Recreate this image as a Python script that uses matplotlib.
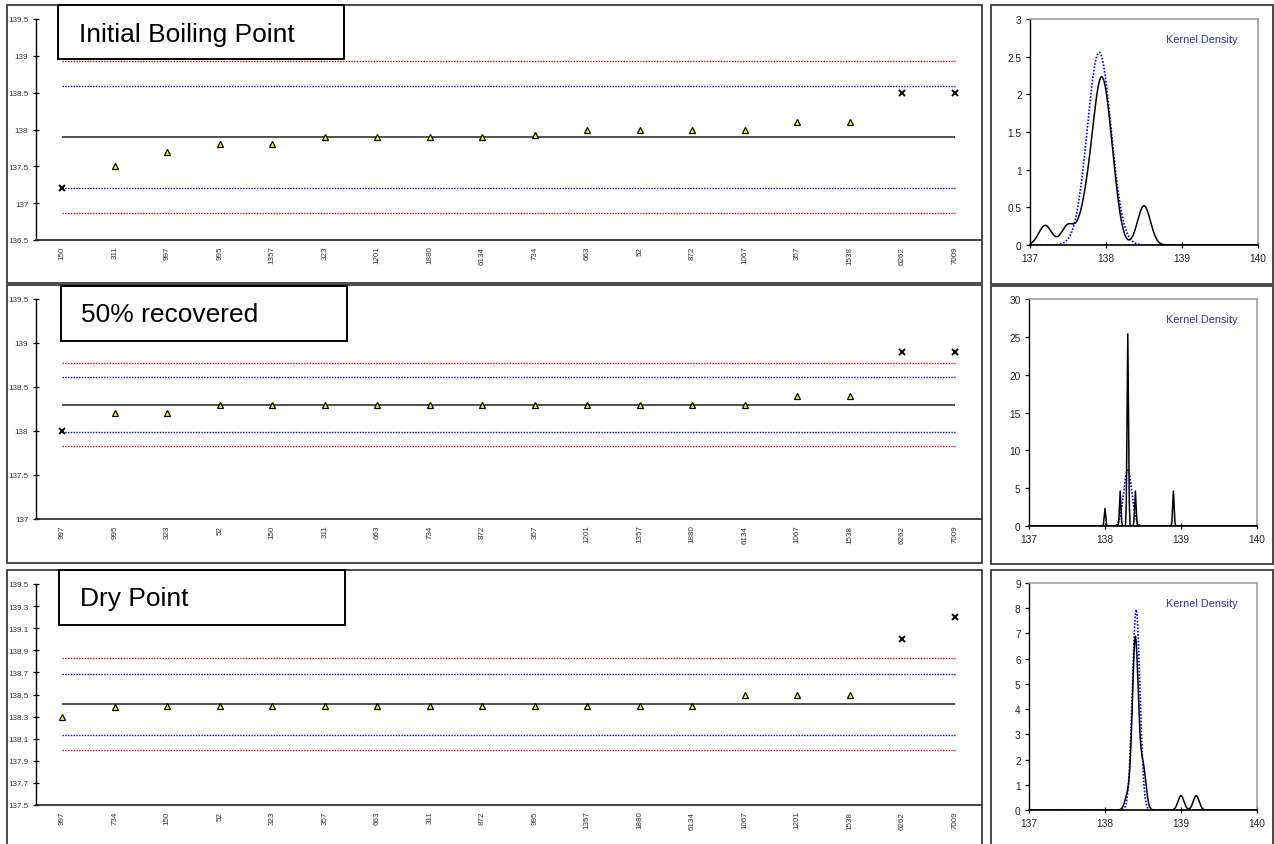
import numpy as np
import matplotlib
matplotlib.use('Agg')
import matplotlib.pyplot as plt
from matplotlib.patches import Rectangle

plt.rcParams['font.family'] = ['Liberation Sans', 'DejaVu Sans']

W, H = 1274, 845

# ---------------- data ----------------
ibp_labels = ['150', '311', '997', '995', '1357', '323', '1201', '1880', '6134',
              '734', '663', '52', '872', '1067', '357', '1538', '6262', '7009']
ibp_values = [137.2, 137.5, 137.7, 137.8, 137.8, 137.9, 137.9, 137.9, 137.9,
              137.93, 138.0, 138.0, 138.0, 138.0, 138.1, 138.1, 138.5, 138.5]
ibp_outliers = ['150', '6262', '7009']
ibp_center = 137.90
ibp_inner = [137.21, 138.59]
ibp_outer = [136.87, 138.93]

rec_labels = ['997', '995', '323', '52', '150', '311', '663', '734', '872',
              '357', '1201', '1357', '1880', '6134', '1067', '1538', '6262', '7009']
rec_values = [138.0, 138.2, 138.2, 138.3, 138.3, 138.3, 138.3, 138.3, 138.3,
              138.3, 138.3, 138.3, 138.3, 138.3, 138.4, 138.4, 138.9, 138.9]
rec_outliers = ['997', '6262', '7009']
rec_center = 138.30
rec_inner = [137.985, 138.615]
rec_outer = [137.83, 138.77]

dry_labels = ['997', '734', '150', '52', '323', '357', '663', '311', '872',
              '995', '1357', '1880', '6134', '1067', '1201', '1538', '6262', '7009']
dry_values = [138.3, 138.39, 138.4, 138.4, 138.4, 138.4, 138.4, 138.4, 138.4,
              138.4, 138.4, 138.4, 138.4, 138.5, 138.5, 138.5, 139.0, 139.2]
dry_outliers = ['6262', '7009']
dry_center = 138.41
dry_inner = [138.13, 138.69]
dry_outer = [137.995, 138.83]

# kernel density settings (bandwidth of black KDE, mean/sd of blue normal)
ibp_kde_h, ibp_norm_mu, ibp_norm_sd = 0.085, 137.91, 0.156
rec_kde_h, rec_norm_mu, rec_norm_sd = 0.0096, 138.30, 0.054
dry_kde_h, dry_norm_mu, dry_norm_sd = 0.039, 138.41, 0.0502

titles = ['Initial Boiling Point', '50% recovered', 'Dry Point']


# ---------------- helpers ----------------
def fr(x0, y0, x1, y1):
    return [x0 / W, 1 - y1 / H, (x1 - x0) / W, (y1 - y0) / H]


fig = plt.figure(figsize=(W / 100, H / 100), dpi=100)
fig.patch.set_facecolor('white')


def frame(x0, y0, x1, y1, lw=1.3, color='#3a3a3a', z=0, fc='none'):
    r = Rectangle((x0 / W, 1 - y1 / H), (x1 - x0) / W, (y1 - y0) / H,
                  transform=fig.transFigure, fill=(fc != 'none'), facecolor=fc,
                  edgecolor=color, lw=lw, zorder=z)
    fig.add_artist(r)


dot = (0, (1, 1))


def left_panel(rect, labels, values, outliers, center, inner, outer, ylim, yticks):
    ax = fig.add_axes(fr(*rect))
    x = np.arange(len(labels))
    v = np.asarray(values)
    mask = np.array([l in outliers for l in labels])
    n = len(labels)
    ax.hlines(outer, 0, n - 1, colors='#ff0000', linestyles=dot, lw=1.0, zorder=2)
    ax.hlines(inner, 0, n - 1, colors='#0000ff', linestyles=dot, lw=1.0, zorder=2)
    ax.hlines([center], 0, n - 1, colors='#222222', lw=1.1, zorder=2)
    ax.plot(x[~mask], v[~mask], ls='none', marker='^', ms=5, mfc='#ffff00',
            mec='black', mew=0.9, zorder=3)
    ax.plot(x[mask], v[mask], ls='none', marker='x', ms=4, mec='black',
            mew=1.4, zorder=3)
    ax.set_xlim(-0.5, n - 0.5)
    ax.set_ylim(*ylim)
    ax.set_yticks(yticks)
    ax.set_yticklabels([f'{t:g}' for t in yticks])
    ax.set_xticks(x)
    ax.set_xticklabels(labels, rotation=90)
    ax.tick_params(axis='x', length=0, pad=4, labelsize=5.8, labelcolor='#333333')
    ax.tick_params(axis='y', direction='inout', length=5, width=0.9, pad=3,
                   labelsize=5.8, labelcolor='#333333')
    for s in ['top', 'right']:
        ax.spines[s].set_visible(False)
    ax.spines['left'].set_linewidth(1.0)
    ax.spines['bottom'].set_linewidth(1.2)
    ax.spines['bottom'].set_color('#222222')
    ax.patch.set_alpha(0)
    return ax


def right_panel(rect, values, h, mu, sd, ylim, yticks):
    ax = fig.add_axes(fr(*rect))
    grid = np.linspace(137, 140, 301)
    v = np.asarray(values)[:, None]
    dens = np.exp(-0.5 * ((grid - v) / h) ** 2).sum(0) / (len(values) * h * np.sqrt(2 * np.pi))
    norm = np.exp(-0.5 * ((grid - mu) / sd) ** 2) / (sd * np.sqrt(2 * np.pi))
    ax.plot(grid, norm, color='#0000ff', ls=dot, lw=1.2, zorder=2)
    ax.plot(grid, dens, color='black', lw=1.1, zorder=3)
    ax.set_xlim(137, 140)
    ax.set_ylim(*ylim)
    ax.set_xticks([137, 138, 139, 140])
    ax.set_yticks(yticks)
    ax.set_yticklabels([f'{t:g}' for t in yticks])
    ax.tick_params(axis='x', direction='inout', length=5, width=0.9, pad=3,
                   labelsize=7.3, labelcolor='#222222')
    ax.tick_params(axis='y', direction='out', length=3, width=0.9, pad=3,
                   labelsize=7.3, labelcolor='#222222')
    for s in ['top', 'right']:
        ax.spines[s].set_color('#a0a0a0')
        ax.spines[s].set_linewidth(1.2)
    ax.spines['left'].set_linewidth(1.0)
    ax.spines['bottom'].set_linewidth(1.2)
    return ax


# ---------------- frames ----------------
frame(7, 6, 982, 284)
frame(7, 286, 982, 564)
frame(7, 571, 982, 850)
frame(991, 6, 1273, 285)
frame(991, 287, 1273, 565)
frame(991, 571, 1273, 850)

# ---------------- left panels ----------------
left_panel((36, 20, 981, 241), ibp_labels, ibp_values, ibp_outliers,
           ibp_center, ibp_inner, ibp_outer, (136.5, 139.5),
           [136.5, 137, 137.5, 138, 138.5, 139, 139.5])
left_panel((36, 300, 981, 520), rec_labels, rec_values, rec_outliers,
           rec_center, rec_inner, rec_outer, (137, 139.5),
           [137, 137.5, 138, 138.5, 139, 139.5])
left_panel((36, 585, 981, 806), dry_labels, dry_values, dry_outliers,
           dry_center, dry_inner, dry_outer, (137.5, 139.5),
           [137.5, 137.7, 137.9, 138.1, 138.3, 138.5, 138.7, 138.9, 139.1, 139.3, 139.5])

# ---------------- right panels ----------------
right_panel((1030, 20, 1258, 246), ibp_values, ibp_kde_h, ibp_norm_mu, ibp_norm_sd,
            (0, 3), [0, 0.5, 1, 1.5, 2, 2.5, 3])
right_panel((1029, 300, 1257, 527), rec_values, rec_kde_h, rec_norm_mu, rec_norm_sd,
            (0, 30), [0, 5, 10, 15, 20, 25, 30])
right_panel((1029, 584, 1257, 811), dry_values, dry_kde_h, dry_norm_mu, dry_norm_sd,
            (0, 9), list(range(10)))

# ---------------- title boxes & labels ----------------
boxes = [(58, 6, 344, 60, 79, 42), (61, 287, 347, 342, 81, 322), (59, 571, 345, 626, 80, 606)]
for (x0, y0, x1, y1, tx, ty), t in zip(boxes, titles):
    frame(x0, y0, x1, y1, lw=1.4, color='black', z=10, fc='white')
    fig.text(tx / W, 1 - ty / H, t, fontsize=19, ha='left', va='baseline',
             color='black', zorder=11)

for ty in [43, 323, 607]:
    fig.text(1166 / W, 1 - ty / H, 'Kernel Density', fontsize=7.9, ha='left',
             va='baseline', color='#333399')

fig.savefig('out.png', dpi=100, facecolor='white')
